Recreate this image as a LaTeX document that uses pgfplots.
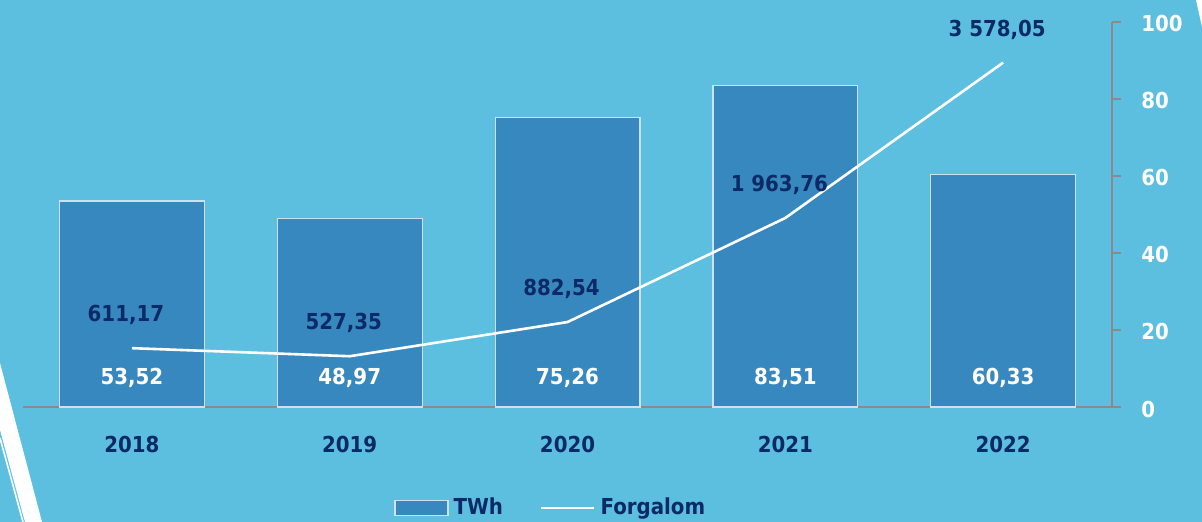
\documentclass[border=0pt]{standalone}
\usepackage{pgfplots}
\pgfplotsset{compat=1.18}
\usepackage{fontspec}
\setmainfont{DejaVu Sans Condensed}[BoldFont={DejaVu Sans Condensed Bold}]
\definecolor{bgc}{HTML}{5CBFDF}
\definecolor{barc}{HTML}{3888C0}
\definecolor{navy}{HTML}{0C2A66}
\definecolor{axc}{HTML}{8A8A8A}
\begin{document}
\begin{tikzpicture}[x=0.5bp,y=0.5bp]
\fill[bgc] (0,0) rectangle (1202,522);
% decorative stripes
\fill[white] (0,159) -- (42,0) -- (25,0) -- (0,92) -- cycle;
\draw[white, line width=0.8bp] (0,84) -- (23,0);
\fill[white] (1196,522) -- (1202,522) -- (1202,495) -- cycle;
\begin{axis}[
  at={(11.5bp,57.5bp)}, anchor=south west,
  scale only axis, width=544.5bp, height=192.5bp,
  xmin=-0.5, xmax=4.5, ymin=0, ymax=100,
  clip=false,
  axis x line*=bottom, axis y line*=right,
  axis line style={axc, line width=1bp},
  xtick={0,1,2,3,4},
  xticklabels={2018,2019,2020,2021,2022},
  xtick style={draw=none},
  ytick={0,20,40,60,80,100},
  ytick pos=right, tick align=outside,
  ytick style={axc, line width=1bp},
  major tick length=4.5bp,
  xticklabel style={anchor=center, yshift=-14bp, text=navy, font=\fontsize{11bp}{13bp}\selectfont\bfseries},
  yticklabel style={anchor=west, inner sep=0pt, xshift=10bp, yshift=-1bp, text=white, font=\fontsize{11bp}{13bp}\selectfont\bfseries},
  /pgf/number format/assume math mode=true,
  legend style={at={(0.486,-0.262)}, anchor=center, draw=none, fill=none,
    legend columns=2, font=\fontsize{11bp}{13bp}\selectfont\bfseries, text=navy,
    /tikz/every even column/.append style={column sep=16bp},
    nodes={inner sep=2.5bp}},
]
\addplot[ybar, bar width=0.665, fill=barc, draw=white!75!barc, line width=0.6bp,
  legend image code/.code={\draw[fill=barc, draw=white!75!barc, line width=0.6bp] (0bp,-3.75bp) rectangle (26.5bp,3.75bp);}]
  coordinates {(0,53.52) (1,48.97) (2,75.26) (3,83.51) (4,60.33)};
\addlegendentry{TWh}
\addlegendimage{white, line width=1.3bp, legend image code/.code={\draw[white, line width=1.3bp] (0bp,0bp) -- (26.5bp,0bp);}}
\addlegendentry{Forgalom}
% bar value labels placed at a fixed height near the base
\addplot[draw=none, forget plot, point meta=explicit,
  nodes near coords={\pgfmathprintnumber[fixed,fixed zerofill,precision=2,use comma]{\pgfplotspointmeta}},
  every node near coord/.append style={anchor=center, text=white, font=\fontsize{11bp}{13bp}\selectfont\bfseries}]
  table[x=x, y expr=7.5, meta=v] {
x v
0 53.52
1 48.97
2 75.26
3 83.51
4 60.33
};
\end{axis}
\begin{axis}[
  at={(11.5bp,57.5bp)}, anchor=south west,
  scale only axis, width=544.5bp, height=192.5bp,
  xmin=-0.5, xmax=4.5, ymin=0, ymax=4000,
  clip=false, hide axis,
  /pgf/number format/assume math mode=true,
]
\addplot[white, line width=1.3bp, mark=none,
  nodes near coords={\pgfmathprintnumber[fixed,fixed zerofill,precision=2,use comma,1000 sep={\ }]{\pgfplotspointmeta}},
  every node near coord/.append style={anchor=center, yshift=16.5bp, xshift=-3bp, text=navy, font=\fontsize{11bp}{13bp}\selectfont\bfseries}]
  coordinates {(0,611.17) (1,527.35) (2,882.54) (3,1963.76) (4,3578.05)};
\end{axis}
\pgfresetboundingbox
\path (0,0) rectangle (1202,522);
\end{tikzpicture}
\end{document}
